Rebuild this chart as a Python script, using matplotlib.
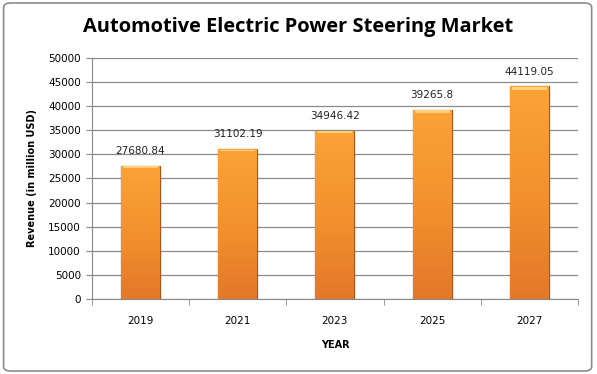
import numpy as np
import matplotlib
matplotlib.use("Agg")
import matplotlib.pyplot as plt
from matplotlib.colors import LinearSegmentedColormap
from matplotlib.patches import FancyBboxPatch

years = ["2019", "2021", "2023", "2025", "2027"]
revenue = [27680.84, 31102.19, 34946.42, 39265.8, 44119.05]
labels = ["27680.84", "31102.19", "34946.42", "39265.8", "44119.05"]
y_ticks = list(range(0, 50001, 5000))

fig = plt.figure(figsize=(5.97, 3.74), dpi=100)
ax = fig.add_axes([0.154, 0.2005, 0.814, 0.6445])

# rounded outer border like the source chart
border = FancyBboxPatch((0.006, 0.008), 0.985, 0.984, boxstyle="round,pad=0,rounding_size=0.012",
                        transform=fig.transFigure, fill=False, edgecolor="#8c8c8c", linewidth=1.2)
fig.patches.append(border)

x = np.arange(len(years))
bars = ax.bar(x, revenue, width=0.4, color="#f08a2a", edgecolor="#a8551a", linewidth=0.9, zorder=3)

# vertical orange gradient inside each bar
cmap = LinearSegmentedColormap.from_list("orange", ["#e3782a", "#f3922d", "#fba236"])
grad = np.linspace(0, 1, 256).reshape(-1, 1)
for b in bars:
    x0, w, h = b.get_x(), b.get_width(), b.get_height()
    im = ax.imshow(grad, cmap=cmap, origin="lower", aspect="auto",
                   extent=[x0, x0 + w, 0, h], zorder=3)
    im.set_clip_path(b)
    # light highlight at top of bar
    ax.bar(x0 + w / 2, h * 0.012, bottom=h * 0.985, width=w * 0.9, color="#ffd27a",
           linewidth=0, zorder=4)

for xi, v, lab in zip(x, revenue, labels):
    ax.annotate(lab, (xi, v), xytext=(0, 7), textcoords="offset points",
                ha="center", va="bottom", fontsize=7.5, color="#222222")

ax.set_xlim(-0.5, len(years) - 0.5)
ax.set_ylim(0, 50000)
ax.set_yticks(y_ticks)
ax.set_yticklabels([str(t) for t in y_ticks], fontsize=7.5)
ax.set_xticks(x)
ax.set_xticklabels(years, fontsize=7.5)
ax.tick_params(axis="x", length=0, pad=12)
ax.set_xticks(np.arange(-0.5, len(years)), minor=True)
ax.tick_params(axis="x", which="minor", length=4, color="#888888")
ax.tick_params(axis="y", length=4, color="#888888", pad=4)

ax.grid(axis="y", color="#8a8a8a", linewidth=0.9, zorder=0)
ax.set_axisbelow(True)
for s in ["top", "right"]:
    ax.spines[s].set_visible(False)
for s in ["left", "bottom"]:
    ax.spines[s].set_color("#888888")

ax.set_ylabel("Revenue (in million USD)", fontsize=7, fontweight="bold", labelpad=8)
ax.set_xlabel("YEAR", fontsize=7, fontweight="bold", labelpad=10)

fig.text(0.5, 0.927, "Automotive Electric Power Steering Market", ha="center", va="center",
         fontsize=14.4, fontweight="bold", family="Open Sans")

fig.savefig("out.png", dpi=100)
